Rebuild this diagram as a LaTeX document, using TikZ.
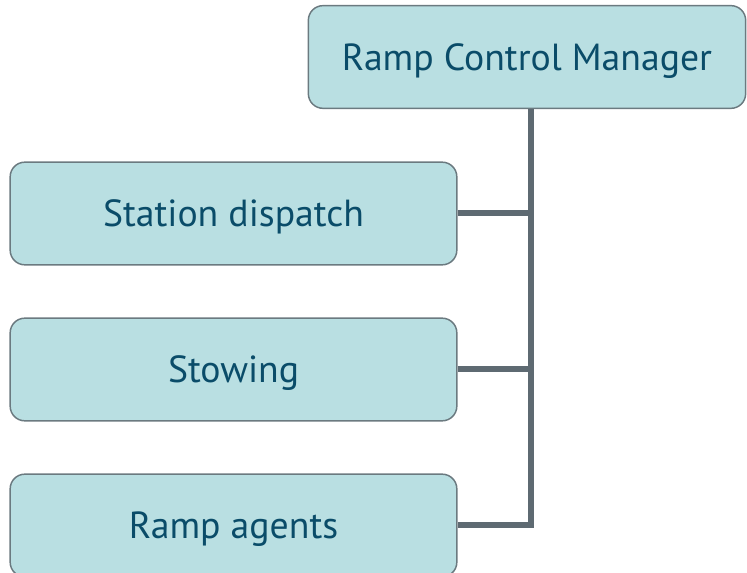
\documentclass[tikz,border=0pt]{standalone}
\usepackage{fontspec}
\setmainfont{PT Sans}
\definecolor{boxfill}{HTML}{B9DFE2}
\definecolor{boxline}{HTML}{6B7A80}
\definecolor{txt}{HTML}{0A4C69}
\definecolor{conn}{HTML}{5E6A72}
\begin{document}
\begin{tikzpicture}[x=0.75pt,y=-0.75pt,
  rolebox/.style={draw=boxline,fill=boxfill,line width=1.1pt,rounded corners=11pt,
    minimum width=335pt,minimum height=77pt,text=txt,font=\fontsize{28.3}{32}\selectfont,
    inner sep=0pt,text height=24pt,text depth=4pt},
  link/.style={draw=conn,line width=4.5pt}]
\useasboundingbox (0,0) rectangle (747,573);
\node[rolebox,minimum width=328pt] (rcm) at (527,57) {Ramp Control Manager};
\node[rolebox] (sd) at (233.5,213.5) {Station dispatch};
\node[rolebox] (st) at (233.5,369.5) {Stowing};
\node[rolebox] (ra) at (233.5,525.5) {Ramp agents};
\coordinate (j) at (531,0);
\draw[link] (rcm.south -| j) -- (j |- ra.east) -- (ra.east);
\draw[link] (sd.east) -- (j |- sd.east);
\draw[link] (st.east) -- (j |- st.east);
\end{tikzpicture}
\end{document}
